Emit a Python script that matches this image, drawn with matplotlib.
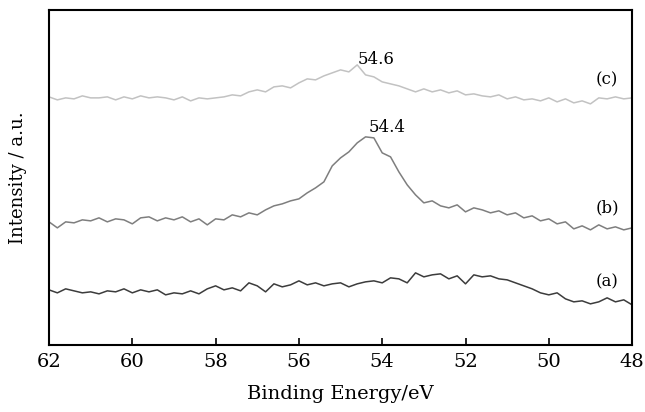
import numpy as np
import matplotlib
matplotlib.use("Agg")
from matplotlib import pyplot as plt

plt.rcParams['font.family'] = ['DejaVu Serif']

# Binding energy grid (eV), 0.2 eV step
energy = np.round(np.arange(62.0, 47.9, -0.2), 1)

# Intensities (a.u.)
int_a = [55, 52, 56, 54, 52, 53, 51, 54, 53, 56,
         52, 55, 53, 55, 50, 52, 51, 54, 51, 56,
         59, 55, 57, 54, 62, 59, 53, 61, 58, 60,
         64, 60, 62, 59, 61, 62, 58, 61, 63, 64,
         62, 67, 66, 62, 72, 68, 70, 71, 66, 69,
         61, 70, 68, 69, 66, 65, 62, 59, 56, 52,
         50, 52, 46, 43, 44, 41, 43, 47, 43, 45,
         40]
int_b = [123, 117, 123, 122, 125, 124, 127, 123, 126, 125,
         121, 127, 128, 124, 127, 125, 128, 123, 126, 120,
         126, 125, 130, 128, 132, 130, 135, 139, 141, 144,
         146, 152, 157, 163, 179, 187, 193, 202, 208, 207,
         192, 188, 173, 160, 150, 142, 144, 139, 137, 140,
         133, 137, 135, 132, 134, 130, 132, 127, 129, 124,
         126, 121, 123, 116, 119, 115, 120, 116, 118, 115,
         117]
int_c = [248, 245, 247, 246, 249, 247, 247, 248, 245, 248,
         246, 249, 247, 248, 247, 245, 248, 244, 247, 246,
         247, 248, 250, 249, 253, 255, 253, 258, 259, 257,
         262, 266, 265, 269, 272, 275, 273, 280, 270, 268,
         263, 261, 259, 256, 253, 256, 253, 255, 252, 254,
         250, 251, 249, 248, 250, 246, 248, 245, 246, 244,
         247, 243, 246, 242, 244, 241, 247, 246, 248, 246,
         247]

curve_labels = ['(a)', '(b)', '(c)']
curve_colors = ['#3c3c3c', '#7e7e7e', '#c2c2c2']

fig = plt.figure(figsize=(6.45, 4.12), dpi=100)
ax = fig.add_axes([0.076, 0.163, 0.904, 0.813])

for ys, col in zip([int_a, int_b, int_c], curve_colors):
    ax.plot(energy, ys, color=col, lw=1.1)

# curve labels on the right
for lab, ypos in zip(curve_labels, [63, 137, 265]):
    ax.text(48.6, ypos, lab, fontsize=12, ha='center', va='center')

# peak annotations
ax.text(54.15, 285, '54.6', fontsize=12, ha='center', va='center')
ax.text(53.88, 217, '54.4', fontsize=12, ha='center', va='center')

ax.set_xlim(62, 48)
ax.set_ylim(0, 335)
ax.set_xticks([62, 60, 58, 56, 54, 52, 50, 48])
ax.set_yticks([])
ax.tick_params(axis='x', direction='in', length=5, width=1.2, labelsize=14, pad=6)
for sp in ax.spines.values():
    sp.set_linewidth(1.5)

ax.set_xlabel('Binding Energy/eV', fontsize=14, labelpad=10)
ax.set_ylabel('Intensity / a.u.', fontsize=13, labelpad=16)

fig.savefig('out.png', dpi=100)
